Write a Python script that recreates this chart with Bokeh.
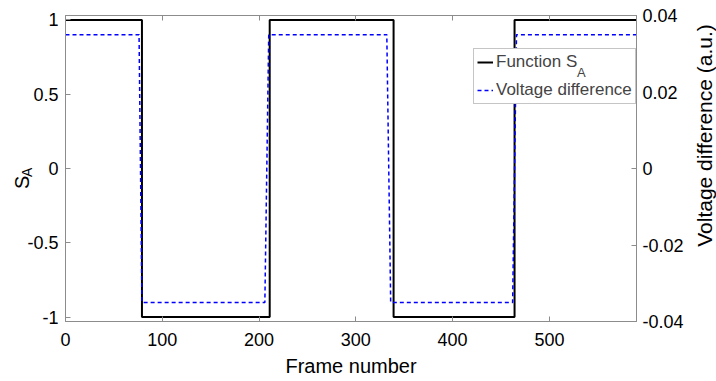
import math
from bokeh.plotting import figure
from bokeh.layouts import row
from bokeh.models import (Range1d, LinearAxis, FixedTicker, Legend, LegendItem)
from bokeh.embed import file_html
from bokeh.resources import INLINE

# ---- data ----
frame_sa = [0, 79, 79, 211, 211, 339, 339, 464, 464, 590]
s_a = [1, 1, -1, -1, 1, 1, -1, -1, 1, 1]
frame_vd = [0, 76, 79, 206, 210, 332, 336, 462, 466, 590]
volt_diff = [0.035, 0.035, -0.035, -0.035, 0.035, 0.035, -0.035, -0.035, 0.035, 0.035]

x_ticks = [0, 100, 200, 300, 400, 500]
x_tick_labels = ["0", "100", "200", "300", "400", "500"]
y_ticks = [-1, -0.5, 0, 0.5, 1]
y_tick_labels = ["-1", "-0.5", "0", "0.5", "1"]
v_ticks = [-0.04, -0.02, 0, 0.02, 0.04]
v_tick_labels = ["-0.04", "-0.02", "0", "0.02", "0.04"]

FONT = "Liberation Sans"
GRAY = "#8c8c8c"
TICK_FS = "18px"
LABEL_FS = "20px"

p = figure(frame_width=571, frame_height=306,
           x_range=Range1d(0, 590), y_range=Range1d(-1.03, 1.03),
           output_backend="svg", toolbar_location=None,
           min_border_left=65, min_border_right=47, min_border_top=15, min_border_bottom=60,
           x_axis_location=None, y_axis_location=None)
p.extra_y_ranges = {"v": Range1d(-0.04, 0.04)}
p.grid.visible = False
p.outline_line_color = GRAY
p.outline_line_width = 1
p.background_fill_color = "white"
p.border_fill_color = "white"


def style(ax, ticks, labels):
    ax.ticker = FixedTicker(ticks=ticks)
    ax.major_label_overrides = {t: l for t, l in zip(ticks, labels)}
    ax.axis_line_color = GRAY
    ax.major_tick_line_color = GRAY
    ax.major_tick_in = 5
    ax.major_tick_out = 0
    ax.minor_tick_line_color = None
    ax.major_label_text_font = FONT
    ax.major_label_text_font_size = TICK_FS
    ax.major_label_text_color = "black"


def label_axis(ax, text, size, standoff):
    ax.ticker = FixedTicker(ticks=[])
    ax.axis_line_color = None
    ax.major_tick_line_color = None
    ax.minor_tick_line_color = None
    ax.major_tick_in = 0
    ax.major_tick_out = 0
    ax.major_label_standoff = 0
    ax.axis_label = text
    ax.axis_label_standoff = standoff
    ax.axis_label_text_font = FONT
    ax.axis_label_text_font_size = size
    ax.axis_label_text_font_style = "normal"
    ax.axis_label_text_color = "black"


xb = LinearAxis()
style(xb, x_ticks, x_tick_labels)
xb.major_label_standoff = 11
xb.axis_label = "Frame number"
xb.axis_label_standoff = 6
xb.axis_label_text_font = FONT
xb.axis_label_text_font_size = LABEL_FS
xb.axis_label_text_font_style = "normal"
xb.axis_label_text_color = "black"
p.add_layout(xb, "below")

xt = LinearAxis()
style(xt, x_ticks, [""] * len(x_ticks))
xt.major_label_standoff = 0
p.add_layout(xt, "above")

yl = LinearAxis()
style(yl, y_ticks, y_tick_labels)
yl.major_label_standoff = 7
p.add_layout(yl, "left")

# subscript A and S of the left axis title S_A
ya = LinearAxis()
label_axis(ya, "A\u00a0\u00a0", "14px", -10)
p.add_layout(ya, "left")
ys = LinearAxis()
label_axis(ys, "S\u00a0\u00a0\u00a0\u00a0\u00a0", LABEL_FS, -17)
p.add_layout(ys, "left")

yr = LinearAxis(y_range_name="v")
style(yr, v_ticks, v_tick_labels)
yr.major_label_standoff = 6
p.add_layout(yr, "right")

r1 = p.line(frame_sa, s_a, line_color="black", line_width=2)
r2 = p.line(frame_vd, volt_diff, line_color="#0000ff", line_width=1.5,
            line_dash="4 3", y_range_name="v")
dummy = p.line(x=[], y=[], line_alpha=0)

legend = Legend(items=[LegendItem(label="Function S", renderers=[r1]),
                       LegendItem(label="Voltage difference", renderers=[r2])],
                location=(408, 217))
legend.label_text_font = FONT
legend.label_text_font_size = "17px"
legend.glyph_width = 16
legend.glyph_height = 20
legend.label_height = 20
legend.label_standoff = 3
legend.padding = 3
legend.spacing = 8
legend.margin = 0
legend.border_line_color = GRAY
legend.border_line_width = 1
legend.background_fill_alpha = 1
p.add_layout(legend, "center")

# subscript A of "Function S_A"
legend_sub = Legend(items=[LegendItem(label="A", renderers=[dummy])],
                    location=(512, 241))
legend_sub.label_text_font = FONT
legend_sub.label_text_font_size = "13px"
legend_sub.glyph_width = 0
legend_sub.glyph_height = 14
legend_sub.label_height = 14
legend_sub.label_standoff = 0
legend_sub.padding = 0
legend_sub.margin = 0
legend_sub.border_line_color = None
legend_sub.background_fill_alpha = 0
p.add_layout(legend_sub, "center")

# narrow companion figure carrying the right-hand axis title (reads bottom to top)
p2 = figure(frame_width=3, frame_height=240,
            x_range=Range1d(0, 1), y_range=Range1d(0, 1),
            output_backend="svg", toolbar_location=None,
            min_border_left=30, min_border_right=0, min_border_top=15, min_border_bottom=126,
            x_axis_location=None, y_axis_location=None)
p2.grid.visible = False
p2.outline_line_color = None
p2.background_fill_color = "white"
p2.border_fill_color = "white"
yv = LinearAxis()
label_axis(yv, "Voltage difference (a.u.)", "21px", 1)
p2.add_layout(yv, "left")
p2.line(x=[], y=[], line_alpha=0)

layout = row(p, p2, spacing=0)
open("out.html", "w").write(file_html(layout, INLINE))
